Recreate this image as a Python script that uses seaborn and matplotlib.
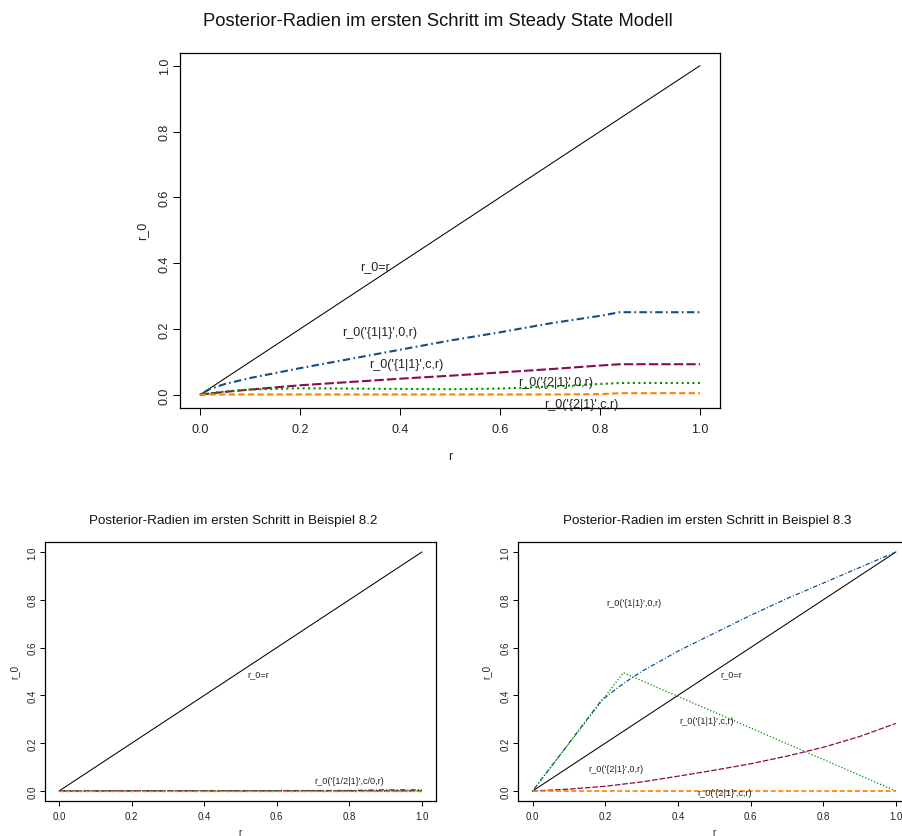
import matplotlib
matplotlib.use("Agg")
import matplotlib.pyplot as plt
import seaborn as sns

sns.set_theme(style="white")
plt.rcParams['font.family'] = ['Liberation Sans', 'DejaVu Sans']

# ---------------- data ----------------
tick_vals = [0.0, 0.2, 0.4, 0.6, 0.8, 1.0]
tick_labels = ["0.0", "0.2", "0.4", "0.6", "0.8", "1.0"]

title_top = "Posterior-Radien im ersten Schritt im Steady State Modell"
title_bl = "Posterior-Radien im ersten Schritt in Beispiel 8.2"
title_br = "Posterior-Radien im ersten Schritt in Beispiel 8.3"

diag_r = [0.0, 1.0]
diag_y = [0.0, 1.0]

# top panel (steady state)
top_r = [0, 0.02, 0.05, 0.1, 0.2, 0.3, 0.4, 0.5, 0.6, 0.7, 0.8, 0.84, 0.9, 1.0]
top_11_0 = [0, 0.018, 0.033, 0.051, 0.081, 0.109, 0.137, 0.165, 0.190, 0.217, 0.240, 0.251, 0.251, 0.251]
top_11_c = [0, 0.004, 0.009, 0.016, 0.029, 0.039, 0.049, 0.058, 0.068, 0.078, 0.089, 0.093, 0.093, 0.093]
top_21_0 = [0, 0.005, 0.010, 0.016, 0.020, 0.019, 0.018, 0.017, 0.019, 0.025, 0.033, 0.036, 0.036, 0.036]
top_21_c = [0, 0.001, 0.001, 0.001, 0.001, 0.001, 0.001, 0.001, 0.001, 0.001, 0.002, 0.005, 0.005, 0.005]

# bottom left (Beispiel 8.2)
bl_r = [0, 0.2, 0.4, 0.6, 0.8, 0.86, 0.9, 1.0]
bl_11_0 = [0, 0.0005, 0.001, 0.0015, 0.002, 0.004, 0.005, 0.005]
bl_11_c = [0, 0.001, 0.001, 0.001, 0.001, 0.001, 0.001, 0.001]
bl_21_0 = [0, 0.0005, 0.0005, 0.0005, 0.0005, 0.0005, 0.0005, 0.0005]
bl_21_c = [0, 0, 0, 0, 0, 0, 0, 0]

# bottom right (Beispiel 8.3)
br_r_11_0 = [0, 0.1, 0.19, 0.25, 0.3, 0.4, 0.5, 0.6, 0.7, 0.8, 0.9, 1.0]
br_11_0 = [0, 0.2, 0.38, 0.45, 0.50, 0.585, 0.66, 0.735, 0.805, 0.87, 0.935, 1.0]
br_r_11_c = [0, 0.1, 0.2, 0.3, 0.4, 0.5, 0.6, 0.7, 0.8, 0.9, 1.0]
br_11_c = [0, 0.008, 0.020, 0.038, 0.062, 0.087, 0.114, 0.146, 0.183, 0.228, 0.283]
br_r_21_0 = [0, 0.25, 1.0]
br_21_0 = [0, 0.495, 0.0]
br_r_21_c = [0, 0.5, 1.0]
br_21_c = [0.001, 0.001, 0.001]

# labels: (text, x, y)
top_labels = [("r_0=r", 0.35, 0.39),
              ("r_0('{1|1}',0,r)", 0.36, 0.19),
              ("r_0('{1|1}',c,r)", 0.412, 0.093),
              ("r_0('{2|1}',0,r)", 0.712, 0.04),
              ("r_0('{2|1}',c,r)", 0.762, -0.028)]
bl_labels = [("r_0=r", 0.549, 0.49),
             ("r_0('{1/2|1}',c/0,r)", 0.80, 0.042)]
br_labels = [("r_0('{1|1}',0,r)", 0.28, 0.79),
             ("r_0=r", 0.548, 0.49),
             ("r_0('{1|1}',c,r)", 0.479, 0.293),
             ("r_0('{2|1}',0,r)", 0.229, 0.093),
             ("r_0('{2|1}',c,r)", 0.528, -0.007)]

# ---------------- styles ----------------
C_BLUE = "#104E8B"
C_PURPLE = "#8B0A50"
C_GREEN = "#008B00"
C_ORANGE = "#FF7F00"
DASH_BLUE = (0, (0.8, 1.6, 3.6, 1.6))
DASH_PURPLE = (0, (4.5, 1.5))
DASH_GREEN = (0, (1.0, 1.6))
DASH_ORANGE = (0, (3.0, 1.6))

W, H = 902, 837
fig = plt.figure(figsize=(W / 100, H / 100), dpi=100)


def add_ax(left, top, right, bottom):
    return fig.add_axes([left / W, 1 - bottom / H, (right - left) / W, (bottom - top) / H])


def style_ax(ax, wpx, hpx, ticksize, ticklen, xpad, ypad, xlab_off, ylab_off,
             title, title_size, title_off, title_dx):
    ax.set_xlim(-0.04, 1.04)
    ax.set_ylim(-0.04, 1.04)
    ax.set_xticks(tick_vals)
    ax.set_xticklabels(tick_labels)
    ax.set_yticks(tick_vals)
    ax.set_yticklabels(tick_labels, rotation=90, va="center")
    ax.tick_params(axis="both", direction="out", length=ticklen, width=0.75,
                   color="black", labelsize=ticksize, labelcolor="#222222")
    ax.tick_params(axis="x", pad=xpad, bottom=True)
    ax.tick_params(axis="y", pad=ypad, left=True)
    for s in ax.spines.values():
        s.set_color("black")
        s.set_linewidth(0.9)
    ax.set_xlabel("r", fontsize=ticksize, color="#222222", va="center")
    ax.set_ylabel("r_0", fontsize=ticksize, color="#222222", va="center", ha="center")
    ax.xaxis.set_label_coords(0.5, -xlab_off / hpx)
    ax.yaxis.set_label_coords(-ylab_off / wpx, 0.5)
    ax.text(0.5 + title_dx / wpx, 1 + title_off / hpx, title, transform=ax.transAxes,
            ha="center", va="center", fontsize=title_size, color="#111111")


def draw(ax, x, y, color, ls, lw):
    sns.lineplot(x=x, y=y, ax=ax, color=color, linestyle=ls, linewidth=lw,
                 dash_capstyle="butt", estimator=None, sort=False)


# ---------- top ----------
ax = add_ax(180, 53.5, 720, 409)
draw(ax, diag_r, diag_y, "black", "-", 0.75)
draw(ax, top_r, top_11_0, C_BLUE, DASH_BLUE, 1.5)
draw(ax, top_r, top_11_c, C_PURPLE, DASH_PURPLE, 1.5)
draw(ax, top_r, top_21_0, C_GREEN, DASH_GREEN, 1.5)
draw(ax, top_r, top_21_c, C_ORANGE, DASH_ORANGE, 1.5)
for t, x, y in top_labels:
    ax.text(x, y, t, ha="center", va="center", fontsize=9, color="#222222")
style_ax(ax, 540, 355.5, 9, 5.0, 5.6, 1.5, 47.7, 38, title_top, 13.2, 31.8, -12.5)

# ---------- bottom left ----------
ax = add_ax(44.5, 543.4, 436.5, 801.6)
draw(ax, diag_r, diag_y, "black", "-", 0.75)
draw(ax, bl_r, bl_11_0, C_BLUE, DASH_BLUE, 1.0)
draw(ax, bl_r, bl_11_c, C_PURPLE, DASH_PURPLE, 1.0)
draw(ax, bl_r, bl_21_0, C_GREEN, DASH_GREEN, 1.0)
draw(ax, bl_r, bl_21_c, C_ORANGE, DASH_ORANGE, 1.0)
for t, x, y in bl_labels:
    ax.text(x, y, t, ha="center", va="center", fontsize=6.6, color="#222222")
style_ax(ax, 392, 258.2, 7, 3.6, 4.1, 1.6, 31.4, 30.5, title_bl, 9.6, 22.7, -7.5)

# ---------- bottom right ----------
ax = add_ax(518, 543.4, 910.5, 801.6)
draw(ax, diag_r, diag_y, "black", "-", 0.75)
draw(ax, br_r_11_0, br_11_0, C_BLUE, DASH_BLUE, 0.9)
draw(ax, br_r_11_c, br_11_c, C_PURPLE, DASH_PURPLE, 0.9)
draw(ax, br_r_21_0, br_21_0, C_GREEN, DASH_GREEN, 0.9)
draw(ax, br_r_21_c, br_21_c, C_ORANGE, DASH_ORANGE, 1.2)
for t, x, y in br_labels:
    ax.text(x, y, t, ha="center", va="center", fontsize=6.6, color="#222222")
style_ax(ax, 392.5, 258.2, 7, 3.6, 4.1, 1.6, 31.4, 31, title_br, 9.6, 22.7, -7.0)

fig.savefig("out.png", dpi=100, facecolor="white")
